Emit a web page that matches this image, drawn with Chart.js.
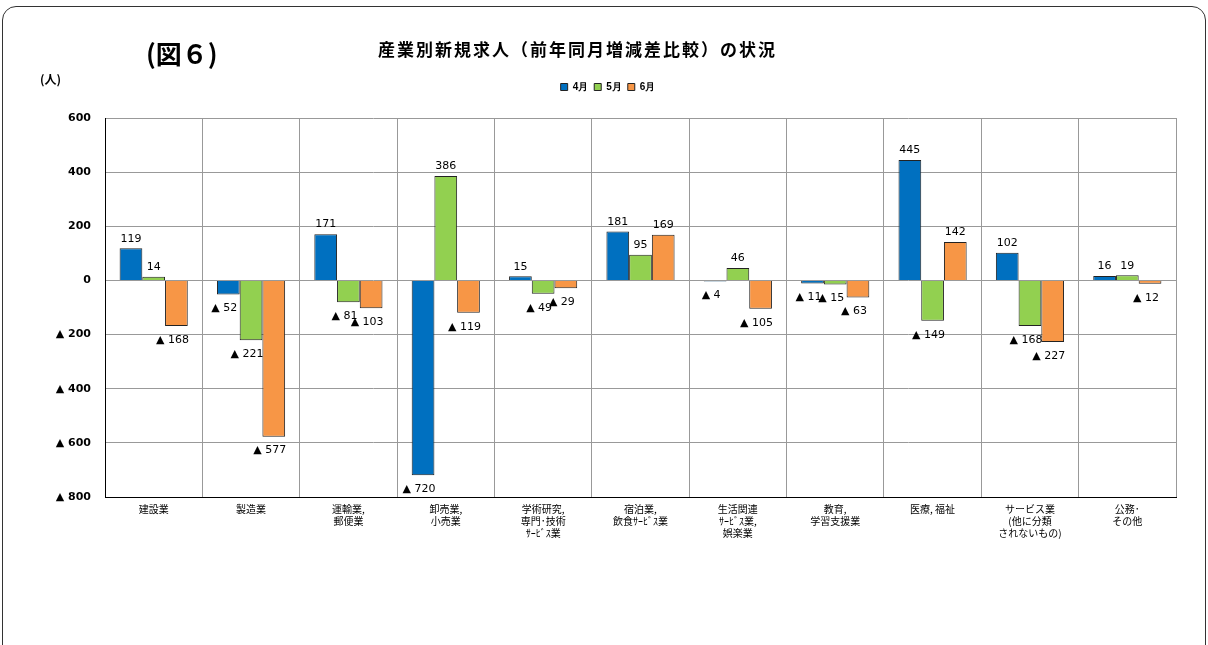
<!DOCTYPE html>
<html><head><meta charset="utf-8">
<script src="https://cdn.jsdelivr.net/npm/chart.js@4"></script>
<style>
body{margin:0;background:#fff;font-family:"Noto Sans CJK JP",sans-serif}
#box{position:absolute;left:2px;top:6px;width:1202px;height:660px;border:1px solid #333;border-radius:14px}
#wrap{position:absolute;left:0;top:0;width:1208px;height:645px}
#zu{position:absolute;left:146px;top:34px;font-size:26px;font-weight:bold}
#ttl{position:absolute;left:378px;top:36px;font-size:17px;font-weight:bold;letter-spacing:2px}
#unit{position:absolute;left:40px;top:70px;font-size:12px;font-weight:bold}
</style></head><body>
<div id="box"></div>
<div id="wrap"><canvas id="c"></canvas></div>
<div id="zu">(図６)</div>
<div id="ttl">産業別新規求人（前年同月増減差比較）の状況</div>
<div id="unit">(人)</div>
<script>
const categories = [['建設業'], ['製造業'], ['運輸業,', '郵便業'], ['卸売業,', '小売業'], ['学術研究,', '専門･技術', 'ｻｰﾋﾞｽ業'], ['宿泊業,', '飲食ｻｰﾋﾞｽ業'], ['生活関連', 'ｻｰﾋﾞｽ業,', '娯楽業'], ['教育,', '学習支援業'], ['医療, 福祉'], ['サービス業', '(他に分類', 'されないもの)'], ['公務･', 'その他']]
const apr = [119, -52, 171, -720, 15, 181, -4, -11, 445, 102, 16]
const may = [14, -221, -81, 386, -49, 95, 46, -15, -149, -168, 19]
const jun = [-168, -577, -103, -119, -29, 169, -105, -63, 142, -227, -12]

const fmt = v => v < 0 ? '▲ ' + Math.abs(v) : String(v)

const labelPlugin = {
  id: 'labels',
  afterDatasetsDraw(chart) {
    const ctx = chart.ctx
    ctx.save()
    ctx.font = '11px "DejaVu Sans"'
    ctx.fillStyle = '#000'
    ctx.textAlign = 'center'
    chart.data.datasets.forEach((ds, i) => {
      chart.getDatasetMeta(i).data.forEach((bar, j) => {
        const v = ds.data[j]
        if (v >= 0) {
          ctx.textBaseline = 'bottom'
          ctx.fillText(fmt(v), bar.x, bar.y - 4)
        } else {
          ctx.textBaseline = 'middle'
          ctx.fillText(fmt(v), bar.x - 4, bar.y + 14)
        }
      })
    })
    ctx.restore()
  }
}

// espacio extra debajo de la leyenda
const legendGap = {
  id: 'legendGap',
  afterInit(chart) {
    const fit = chart.legend.fit
    chart.legend.fit = function () {
      fit.call(this)
      this.height += 16
    }
  }
}

new Chart(document.getElementById('c'), {
  type: 'bar',
  data: {
    labels: categories,
    datasets: [
      { label: '4月', data: apr, backgroundColor: '#0070c0' },
      { label: '5月', data: may, backgroundColor: '#92d050' },
      { label: '6月', data: jun, backgroundColor: '#f79646' }
    ].map(d => ({ ...d, borderColor: '#222', borderWidth: 1, categoryPercentage: 0.7, barPercentage: 1 }))
  },
  options: {
    responsive: true,
    maintainAspectRatio: false,
    animation: false,
    layout: { padding: { left: 40, right: 32, top: 76, bottom: 100 } },
    plugins: {
      legend: {
        position: 'top',
        labels: { boxWidth: 7, boxHeight: 7, font: { size: 10, weight: 'bold' }, color: '#000', padding: 6 }
      },
      tooltip: { enabled: false }
    },
    scales: {
      x: {
        grid: { color: '#999', offset: true, drawTicks: false },
        border: { color: '#000' },
        ticks: { color: '#000', font: { size: 10, family: 'Noto Sans CJK JP' }, padding: 6, maxRotation: 0, autoSkip: false }
      },
      y: {
        min: -800, max: 600,
        afterFit: s => { s.width = 65 },
        grid: { color: '#999', drawTicks: false },
        border: { color: '#000' },
        ticks: { stepSize: 200, color: '#000', font: { size: 11, weight: 'bold', family: 'DejaVu Sans' }, padding: 14, callback: v => fmt(v) }
      }
    }
  },
  plugins: [labelPlugin, legendGap]
})
</script>
</body></html>
